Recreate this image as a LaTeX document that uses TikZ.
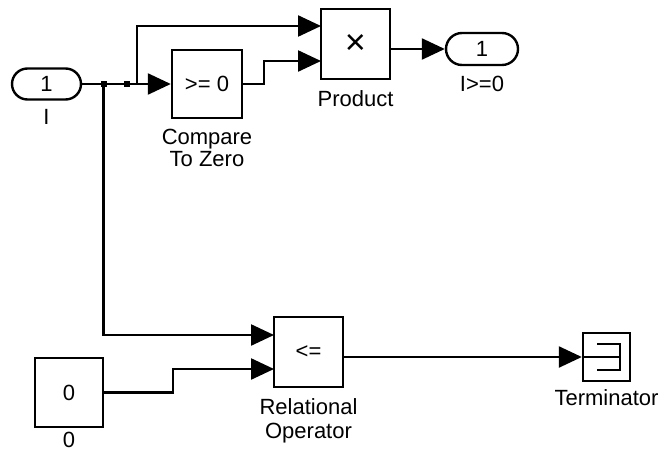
\documentclass[tikz,border=0pt]{standalone}
\usepackage{fontspec}
\setmainfont{Liberation Sans}
\usetikzlibrary{arrows.meta}
\begin{document}
\begin{tikzpicture}[x=1pt,y=-1pt,
  blk/.style={draw, line width=2.4pt, inner sep=0pt, font=\fontsize{22}{26}\selectfont},
  sig/.style={line width=2.4pt, -{Triangle[length=23pt,width=21pt]}},
  thin/.style={line width=2pt},
  lbl/.style={anchor=base, inner sep=0pt, font=\fontsize{22}{26}\selectfont},
  junc/.style={fill, minimum size=6pt, inner sep=0pt}]
\useasboundingbox[fill=white] (0,0) rectangle (668,452);

% blocks
\node[blk, rounded corners=15.5pt, minimum width=69pt, minimum height=31pt] (in) at (46.5,84) {1};
\node[lbl] (inl) at (46.5,124) {I};

\node[blk, minimum width=70pt, minimum height=68pt] (cmp) at (207,84) {>= 0};
\node[lbl] (cmpl1) at (207,144) {Compare};
\node[lbl] (cmpl2) at (207,166) {To Zero};

\node[blk, minimum width=69pt, minimum height=70pt, font=\fontsize{36}{40}\selectfont] (prod) at (355.5,44) {×};
\node[lbl] (prodl) at (355.5,106) {Product};

\node[blk, rounded corners=16pt, minimum width=72pt, minimum height=32pt] (out) at (482,49) {1};
\node[lbl] (outl) at (482,91) {I>=0};

\node[blk, minimum width=69pt, minimum height=70pt] (rel) at (308.5,352) {<=};
\node[lbl] (rell1) at (308.5,414) {Relational};
\node[lbl] (rell2) at (308.5,438) {Operator};

\node[blk, minimum width=68pt, minimum height=69pt] (cst) at (69,392.5) {0};
\node[lbl] (cstl) at (69,447) {0};

\node[blk, minimum width=47pt, minimum height=48pt] (term) at (606.5,357) {};
\node[lbl] (terml) at (606.5,405) {Terminator};
\draw[thin] ([shift={(-9.5,-13)}]term.center) -- ++(23,0) -- ++(0,26) -- ++(-23,0);
\draw[thin] (term.west) -- ++(37,0);

% ports and junctions
\node[junc] (j1) at (103.5,84) {};
\node[junc] (j2) at (127,84) {};
\coordinate (b1) at (137,84);
\coordinate (pin1) at (321,26);
\coordinate (pin2) at (321,61);
\coordinate (pout) at (390,49);
\coordinate (rin1) at (274,335);
\coordinate (rin2) at (274,369);
\coordinate (rout) at (343,357);

% signals
\draw[sig] (in.east) -- (cmp.west);
\draw[sig] (b1) |- (pin1);
\draw[sig] (cmp.east) -- ++(21,0) |- (pin2);
\draw[sig] (pout) -- (out.west);
\draw[sig] (j1.center) |- (rin1);
\draw[sig] (cst.east) -- ++(69,0) |- (rin2);
\draw[sig] (rout) -- (term.west);
\end{tikzpicture}
\end{document}
